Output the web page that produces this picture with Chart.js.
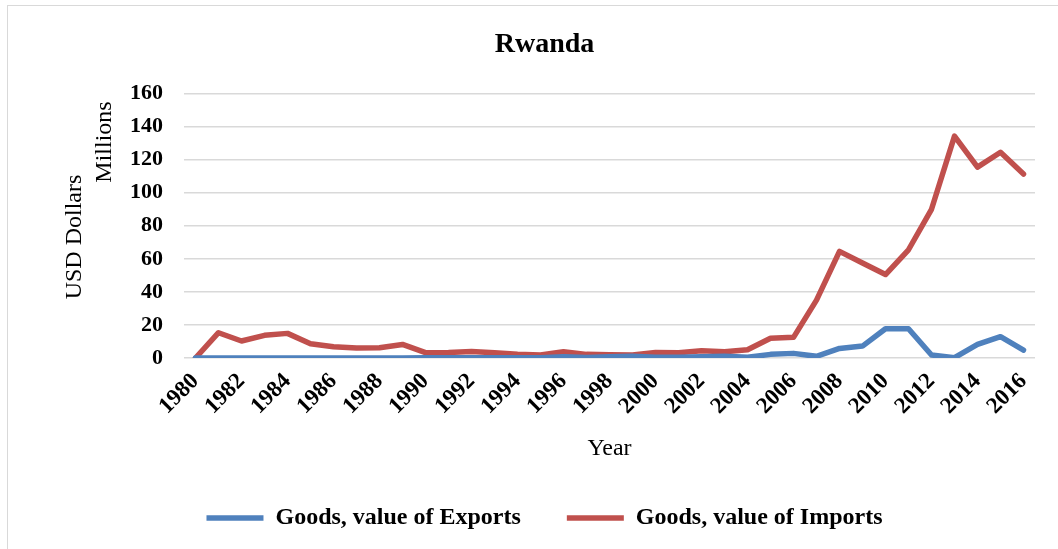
<!DOCTYPE html>
<html lang="en">
<head>
  <meta charset="UTF-8">
  <title>Rwanda</title>
  <style>
    body {
      margin: 0;
      background: #fff;
      font-family: "Liberation Serif", serif;
    }
    .frame {
      position: absolute;
      left: 7px;
      top: 5px;
      width: 1100px;
      height: 600px;
      border: 1px solid #d9d9d9;
    }
    .chart-box {
      position: absolute;
      left: 0;
      top: 0;
      width: 1058px;
      height: 549px;
    }
  </style>
  <script src="https://cdn.jsdelivr.net/npm/chart.js"></script>
</head>
<body>

  <div class="frame"></div>
  <div class="chart-box">
    <canvas id="tradeChart" width="1058" height="549"></canvas>
  </div>

  <script>
    // years on the x axis
    var years = ['1980', '1981', '1982', '1983', '1984', '1985', '1986', '1987', '1988', '1989',
                 '1990', '1991', '1992', '1993', '1994', '1995', '1996', '1997', '1998', '1999',
                 '2000', '2001', '2002', '2003', '2004', '2005', '2006', '2007', '2008', '2009',
                 '2010', '2011', '2012', '2013', '2014', '2015', '2016'];

    // goods, value of exports (USD millions)
    var exportsValues = [0, 0, 0, 0, 0, 0, 0, 0, 0, 0,
                         0.2, 0.2, 0.2, 0.2, 0.2, 0.2, 0.8, 0.3, 0.8, 1,
                         0.5, 0.5, 0.8, 1, 0.5, 2.2, 2.8, 1, 5.8, 7.2,
                         17.7, 17.7, 1.8, 0.2, 8.2, 12.9, 4.8];

    // goods, value of imports (USD millions)
    var importsValues = [0, 15.3, 10.3, 13.7, 14.9, 8.6, 6.8, 6, 6.2, 8.2,
                         3.2, 3.4, 4, 3.2, 2.2, 1.8, 3.8, 2.2, 2, 1.8,
                         3.4, 3.2, 4.4, 3.8, 5, 12, 12.5, 35, 64.5, 57.5,
                         50.5, 65.5, 90, 134.3, 115.5, 124.5, 111.3];

    var yTicks = [0, 20, 40, 60, 80, 100, 120, 140, 160];

    var serif = '"Liberation Serif", "Times New Roman", serif';
    Chart.defaults.color = '#000';
    Chart.defaults.font.family = serif;

    // the two rotated axis captions at the left
    var sideTitles = {
      id: 'sideTitles',
      afterDraw: function (chart) {
        var ctx = chart.ctx;
        ctx.save();
        ctx.fillStyle = '#000';
        ctx.font = '24px ' + serif;
        ctx.textAlign = 'center';
        ctx.textBaseline = 'middle';

        ctx.translate(75, 237);
        ctx.rotate(-Math.PI / 2);
        ctx.fillText('USD Dollars', 0, 0);
        ctx.setTransform(1, 0, 0, 1, 0, 0);

        ctx.translate(105, 142);
        ctx.rotate(-Math.PI / 2);
        ctx.fillText('Millions', 0, 0);
        ctx.restore();
      }
    };

    var ctx = document.getElementById('tradeChart').getContext('2d');
    var myChart = new Chart(ctx, {
      type: 'line',
      data: {
        labels: years,
        datasets: [{
          label: 'Goods, value of Exports',
          data: exportsValues,
          borderColor: '#4f81bd',
          backgroundColor: '#4f81bd',
          borderWidth: 5.5,
          pointRadius: 0,
          tension: 0,
          borderJoinStyle: 'round',
          borderCapStyle: 'round'
        },
        {
          label: 'Goods, value of Imports',
          data: importsValues,
          borderColor: '#c0504d',
          backgroundColor: '#c0504d',
          borderWidth: 5.5,
          pointRadius: 0,
          tension: 0,
          borderJoinStyle: 'round',
          borderCapStyle: 'round'
        }]
      },
      options: {
        responsive: false,
        animation: false,
        layout: {
          padding: { left: 54, right: 23, top: 0, bottom: 9 }
        },
        plugins: {
          title: {
            display: true,
            text: 'Rwanda',
            font: { size: 28, weight: 'bold' },
            padding: { top: 28, bottom: 32 }
          },
          legend: {
            position: 'bottom',
            labels: {
              usePointStyle: true,
              pointStyle: 'line',
              pointStyleWidth: 57,
              padding: 46,
              font: { size: 24, weight: 'bold' }
            }
          },
          tooltip: { enabled: false }
        },
        scales: {
          x: {
            offset: true,
            grid: { display: false },
            border: { display: false },
            ticks: {
              autoSkip: false,
              minRotation: 45,
              maxRotation: 45,
              padding: 2,
              font: { size: 23, weight: 'bold' },
              callback: function (value, index) {
                return index % 2 === 0 ? years[index] : '';
              }
            },
            title: {
              display: true,
              text: 'Year',
              font: { size: 24 },
              padding: { top: 0, bottom: -3 }
            },
            afterFit: function (scale) {
              scale.height = 102;
            }
          },
          y: {
            min: 0,
            max: 160,
            border: { display: false },
            grid: {
              color: '#d9d9d9',
              lineWidth: 1.5,
              drawTicks: false
            },
            afterBuildTicks: function (scale) {
              scale.ticks = yTicks.map(function (v) { return { value: v }; });
            },
            ticks: {
              padding: 21,
              font: { size: 22, weight: 'bold' }
            },
            afterFit: function (scale) {
              scale.width = 130;
            }
          }
        }
      },
      plugins: [sideTitles]
    });
  </script>

</body>
</html>
